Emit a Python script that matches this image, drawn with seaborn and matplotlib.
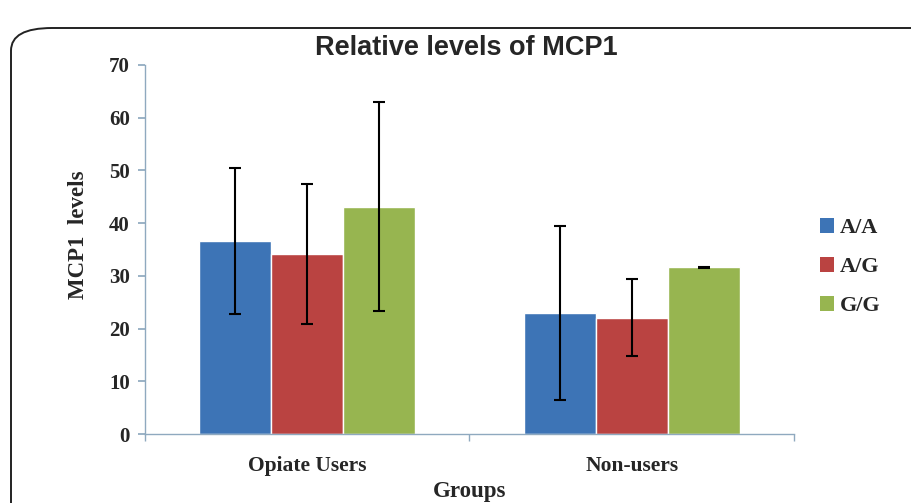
import matplotlib
matplotlib.use("Agg")
import matplotlib.pyplot as plt
import seaborn as sns
import pandas as pd
import numpy as np
from matplotlib.patches import FancyBboxPatch, Patch

# values
groups = ["Opiate Users", "Non-users"]
genotypes = ["A/A", "A/G", "G/G"]
opiate_means = [36.6, 34.1, 43.1]
opiate_err = [13.8, 13.3, 19.8]
nonuser_means = [23.0, 22.1, 31.6]
nonuser_err = [16.5, 7.3, 0.1]
colors = ["#3D74B6", "#BA4341", "#97B550"]

df = pd.DataFrame({
    "group": np.repeat(groups, len(genotypes)),
    "genotype": genotypes * len(groups),
    "level": opiate_means + nonuser_means,
    "err": opiate_err + nonuser_err,
})

sns.set_theme(style="white")
serif = ["Liberation Serif", "DejaVu Serif"]
sans = ["Liberation Sans", "DejaVu Sans"]

fig = plt.figure(figsize=(9.12, 5.03), dpi=100)
ax = fig.add_axes([145 / 912, 1 - 434 / 503, (794 - 145) / 912, (434 - 65) / 503])

sns.barplot(data=df, x="group", y="level", hue="genotype", order=groups,
            hue_order=genotypes, palette=colors, width=0.667, saturation=1,
            errorbar=None, ax=ax, legend=False)

# error bars at bar centres
for container, g in zip(ax.containers, genotypes):
    sub = df[df["genotype"] == g].set_index("group").loc[groups]
    xs = [p.get_x() + p.get_width() / 2 for p in container]
    ax.errorbar(xs, sub["level"], yerr=sub["err"], fmt="none", ecolor="black",
                elinewidth=1.5, capsize=4, capthick=1.5)

ax.set_ylim(0, 70)
ax.set_xlim(-0.5, 1.5)
ax.set_yticks(range(0, 71, 10))
for s in ["top", "right"]:
    ax.spines[s].set_visible(False)
for s in ["left", "bottom"]:
    ax.spines[s].set_color("#8FA9BF")
    ax.spines[s].set_linewidth(1)
ax.tick_params(axis="y", left=True, length=5, color="#8FA9BF", pad=6)
ax.tick_params(axis="x", bottom=False, pad=10)
# minor ticks at group boundaries on the x axis
ax.set_xticks([-0.5, 0.5, 1.5], minor=True)
ax.tick_params(axis="x", which="minor", bottom=True, length=5, color="#8FA9BF")

for lbl in ax.get_yticklabels():
    lbl.set_fontfamily(serif)
    lbl.set_fontweight("bold")
    lbl.set_fontsize(15)
for lbl in ax.get_xticklabels():
    lbl.set_fontfamily(serif)
    lbl.set_fontweight("bold")
    lbl.set_fontsize(15.5)

ax.set_xlabel("Groups", family=serif, fontweight="bold", fontsize=16.5)
ax.xaxis.set_label_coords(0.5, -0.127)
ax.set_ylabel("MCP1  levels", family=serif, fontweight="bold", fontsize=16.5)
ax.yaxis.set_label_coords(-0.086, 0.54)

fig.text(466 / 912, 1 - 48 / 503, "Relative levels of MCP1", family=sans,
         fontweight="bold", fontsize=19.5, ha="center", va="center")

handles = [Patch(facecolor=c, edgecolor="none") for c in colors]
leg = fig.legend(handles, genotypes, loc="center left",
                 bbox_to_anchor=(800 / 912, 1 - 267 / 503), frameon=False,
                 handlelength=0.65, handleheight=0.65, handletextpad=0.25,
                 labelspacing=0.85, prop={"family": serif, "weight": "bold", "size": 16})

# rounded frame around the chart
frame = FancyBboxPatch((11 / 912, -0.2), 1.2, 1 - 28 / 503 + 0.2,
                       boxstyle="round,pad=0,rounding_size=0.045",
                       transform=fig.transFigure, fill=False,
                       edgecolor="#222222", linewidth=1.4, clip_on=False)
fig.patches.append(frame)

fig.savefig("out.png", dpi=100)
